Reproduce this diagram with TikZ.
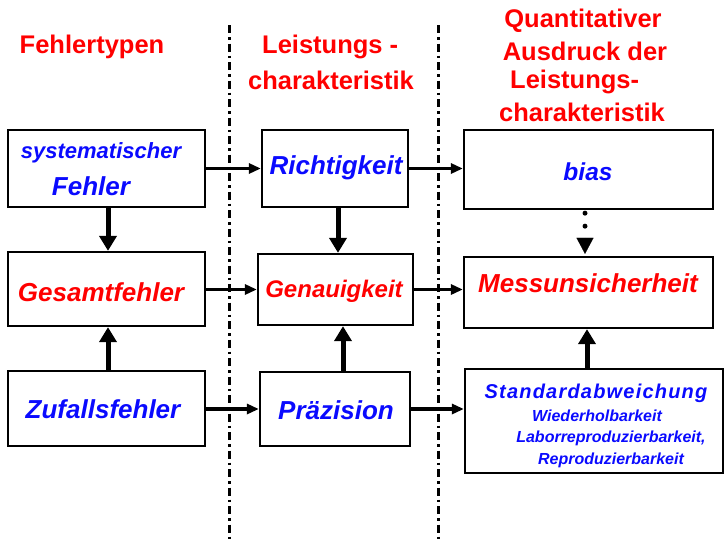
\documentclass[tikz,border=0pt]{standalone}
\usepackage{fontspec}
\setmainfont{Liberation Sans}
\newfontfamily\wdfont[LetterSpace=6]{Liberation Sans}
\usetikzlibrary{arrows.meta}
\definecolor{hred}{RGB}{255,0,0}
\definecolor{tblue}{RGB}{10,10,255}
\begin{document}
\begin{tikzpicture}[x=1pt,y=-1pt,
  box/.style={draw, line width=2.3pt, rectangle, inner sep=0pt},
  head/.style={text=hred, font=\bfseries\fontsize{25.5}{30}\selectfont, inner sep=0pt},
  btxt/.style={font=\bfseries\itshape\fontsize{26}{30}\selectfont, inner sep=0pt},
  small/.style={text=tblue, font=\bfseries\itshape\fontsize{16}{19}\selectfont, inner sep=0pt},
  harrow/.style={line width=3.2pt, -{Triangle[length=12pt,width=10pt]}},
  varrow/.style={line width=5pt, -{Triangle[length=15pt,width=17pt]}},
  sep/.style={line width=3pt, dash pattern=on 8pt off 4pt on 2.5pt off 4pt}]
\useasboundingbox (0,0) rectangle (725,541);
% separators
\draw[sep] (229,25) -- (229,541);
\draw[sep] (438,25) -- (438,541);
% headings
\node[head] (h1) at (92,47) {Fehlertypen};
\node[head, anchor=west] (h2a) at (262,47) {Leistungs -};
\node[head] (h2b) at (331,80) {charakteristik};
\node[head] (h3a) at (583,21) {Quantitativer};
\node[head] (h3b) at (585,51) {Ausdruck der};
\node[head, anchor=west] (h3c) at (510,82) {Leistungs-};
\node[head] (h3d) at (582,112) {charakteristik};
% boxes
\node[box, minimum width=197pt, minimum height=77pt] (sys) at (106.5,168.5) {};
\node[box, minimum width=197pt, minimum height=74pt] (ges) at (106.5,289) {};
\node[box, minimum width=197pt, minimum height=75pt] (zuf) at (106.5,408.5) {};
\node[box, minimum width=146pt, minimum height=77pt] (rich) at (335,168.5) {};
\node[box, minimum width=155pt, minimum height=71pt] (gen) at (335.5,289.5) {};
\node[box, minimum width=150pt, minimum height=74pt] (prae) at (335,409) {};
\node[box, minimum width=249pt, minimum height=79pt] (bias) at (588.5,169.5) {};
\node[box, minimum width=249pt, minimum height=71pt] (mess) at (588.5,292.5) {};
\node[box, minimum width=258pt, minimum height=104pt] (std) at (594,421) {};
% box texts
\node[btxt, text=tblue, font=\bfseries\itshape\fontsize{22}{26}\selectfont] (t1) at (101,153) {systematischer};
\node[btxt, text=tblue] (t2) at (91,186) {Fehler};
\node[btxt, text=hred] (t3) at (101,292) {Gesamtfehler};
\node[btxt, text=tblue] (t4) at (103,409) {Zufallsfehler};
\node[btxt, text=tblue] (t5) at (336,168) {Richtigkeit};
\node[btxt, text=hred, font=\bfseries\itshape\fontsize{24}{28}\selectfont] (t6) at (334,291) {Genauigkeit};
\node[btxt, text=tblue] (t7) at (336,410) {Präzision};
\node[btxt, text=tblue, font=\bfseries\itshape\fontsize{24.5}{28}\selectfont] (t8) at (588,172) {bias};
\node[btxt, text=hred] (t9) at (588,283) {Messunsicherheit};
\node[btxt, text=tblue, font=\wdfont\bfseries\itshape\fontsize{20}{24}\selectfont] (t10) at (596,393) {Standardabweichung};
\node[small] (t11) at (597,416) {Wiederholbarkeit};
\node[small] (t12) at (611,438) {Laborreproduzierbarkeit,};
\node[small] (t13) at (611,460) {Reproduzierbarkeit};
% horizontal arrows
\draw[harrow] (sys.east |- rich) -- (rich.west);
\draw[harrow] (rich.east) -- (rich.east -| bias.west);
\draw[harrow] (ges.east |- gen) -- (gen.west);
\draw[harrow] (gen.east) -- (gen.east -| mess.west);
\draw[harrow] (zuf.east |- prae) -- (prae.west);
\draw[harrow] (prae.east) -- (prae.east -| std.west);
% vertical arrows
\draw[varrow] ([xshift=1.5pt]sys.south) -- ([xshift=1.5pt]sys.south |- ges.north);
\draw[varrow] ([xshift=1.5pt]zuf.north) -- ([xshift=1.5pt]zuf.north |- ges.south);
\draw[varrow] ([xshift=3pt]rich.south) -- ([xshift=3pt]rich.south |- gen.north);
\draw[varrow] ([xshift=8pt]prae.north) -- ([xshift=8pt]prae.north |- gen.south);
\draw[varrow] ([xshift=-1.5pt]std.north -| mess.south) -- ([xshift=-1.5pt]mess.south);
% dotted arrow bias -> mess
\draw[line width=5pt, line cap=round, dash pattern=on 0pt off 13pt, shorten >=22pt, shorten <=3pt] ([xshift=-3.5pt]bias.south) -- ([xshift=-3.5pt]mess.north);
\draw[line width=0.1pt, -{Triangle[length=16pt,width=17pt]}] ([xshift=-3.5pt,yshift=18pt]bias.south |- mess.north) -- ([xshift=-3.5pt,yshift=2pt]mess.north);
\end{tikzpicture}
\end{document}
